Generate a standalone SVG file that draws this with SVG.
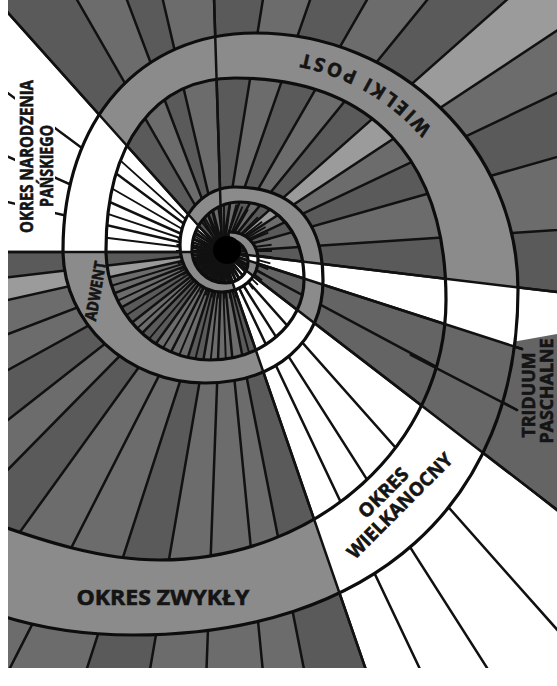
<svg xmlns="http://www.w3.org/2000/svg" width="557" height="686" viewBox="0 0 557 686">
<defs>
<style>
.ray{stroke:#111;stroke-width:2.5;fill:none;stroke-linecap:round}
.thin{stroke:#111;stroke-width:1.9;fill:none}
.edge{stroke:#0d0d0d;stroke-width:3.2;fill:none;stroke-linejoin:round;stroke-linecap:round}
.d{fill:#5a5a5a}.l{fill:#9b9b9b}.w{fill:#ffffff}.t{fill:#646464}
.lbl{font-family:"Open Sans","Liberation Sans",Arial,sans-serif;font-weight:700;fill:#141414;stroke:#141414;stroke-width:0.6}
</style>
<path id="bandPath" d="M-10,612 C30,626 80,635 133,635 C372,635 518,504 518,290 C518,148 400,33 255,33 C140,33 63,120 63,250 C63,323 127,383 205,383 C276,383 323,342 323,280 C323,220 292,187 235,187 C205,187 180,213 180,245 C180,271 199,292 222,292 C242,292 258,278 258,260 C258,243 245,232 230,232 L230,240 C240,240 248,250 248,262 C248,274 238,283 225,283 C207,283 192,268 192,250 C192,224 213,202 240,202 C278,202 304,233 304,280 C304,324 262,360 210,360 C153,360 106,311 106,250 C106,143 155,78 235,78 C370,78 446,158 446,300 C446,444 318,560 160,560 C100,560 40,540 -10,522 Z"/>
<clipPath id="bandclip"><use href="#bandPath"/></clipPath>
<path id="wpPath" d="M482,295 C482,153 385,55 245,55"/>
</defs>

<g id="background">
<rect x="0" y="0" width="557" height="686" fill="#6c6c6c"/>
<g id="wedges-dark" class="d">
<polygon points="222,252 -245,-270 -127,-355"/>
<polygon points="222,252 -25,-403 62,-430"/>
<polygon points="222,252 200,-448 334,-439"/>
<polygon points="222,252 453,-409 571,-355"/>
<polygon points="222,252 664,-291 746,-212"/>
<polygon points="222,252 854,-48 896,61"/>
<polygon points="222,252 921,206 917,335"/>
<polygon points="222,252 448,908 357,939"/>
<polygon points="222,252 103,942 6,918"/>
<polygon points="222,252 -188,820 -269,751"/>
<polygon points="222,252 -329,684 -391,590"/>
<polygon points="222,252 -473,334 -478,252"/>
</g>
<g id="wedges-light" class="l">
<polygon points="222,252 746,-212 806,-134"/>
<polygon points="222,252 -461,405 -473,334"/>
</g>
<g id="wedges-white" class="w">
<polygon points="222,252 -478,252 -460,93 -418,-33 -340,-165 -245,-270"/>
<polygon points="222,252 917,335 888,468"/>
<polygon points="222,252 777,679 687,776 598,842 522,884 448,908"/>
</g>
<polygon class="t" points="222,252 888,468 777,679"/>
<polygon class="t" points="506,343 557,334 557,512 506,471"/>
</g>

<g id="rays">
<path class="ray" d="M222,252 L-478,252 M222,252 L-460,93 M222,252 L-418,-33 M222,252 L-340,-165 M222,252 L-245,-270 M222,252 L-127,-355 M222,252 L-25,-403 M222,252 L62,-430 M222,252 L200,-448 M222,252 L334,-439 M222,252 L453,-409 M222,252 L571,-355 M222,252 L664,-291 M222,252 L746,-212 M222,252 L806,-134 M222,252 L854,-48 M222,252 L896,61 M222,252 L921,206 M222,252 L917,335 M222,252 L522,349 M222,252 L517,410 M222,252 L777,679 M222,252 L687,776 M222,252 L598,842 M222,252 L522,884 M222,252 L448,908 M222,252 L357,939 M222,252 L290,949 M222,252 L196,952 M222,252 L103,942 M222,252 L6,918 M222,252 L-96,876 M222,252 L-188,820 M222,252 L-269,751 M222,252 L-329,684 M222,252 L-391,590 M222,252 L-432,503 M222,252 L-461,405 M222,252 L-473,334"/>
<path class="thin" d="M222,252 L253.6,369.8 M222,252 L226.3,373.9 M222,252 L209.3,373.3 M222,252 L192.5,370.4 M222,252 L175.3,364.7 M222,252 L155,361 M222,252 L143.6,345.5 M222,252 L131.3,333.6 M222,252 L120.3,319.3 M222,252 L106,306.1 M222,252 L97.7,290 M222,252 L97.9,236.8 M222,252 L98.7,210.8 M222,252 L100.8,182 M222,252 L110.5,151.6"/>
<path class="thin" d="M224,251 L272,251 M224,251 L271.6,257.3 M224,251 L270.4,263.4 M224,251 L268.3,269.4 M224,251 L265.6,275 M224,251 L262.1,280.2 M224,251 L257.9,284.9 M224,251 L253.2,289.1 M224,251 L248,292.6 M224,251 L242.4,295.3 M224,251 L236.4,297.4 M224,251 L230.3,298.6 M224,251 L224,299 M224,251 L217.7,298.6 M224,251 L211.6,297.4 M224,251 L205.6,295.3 M224,251 L200,292.6 M224,251 L194.8,289.1 M224,251 L190.1,284.9 M224,251 L185.9,280.2 M224,251 L182.4,275 M224,251 L179.7,269.4 M224,251 L177.6,263.4 M224,251 L176.4,257.3 M224,251 L176,251 M224,251 L176.4,244.7 M224,251 L177.6,238.6 M224,251 L179.7,232.6 M224,251 L182.4,227 M224,251 L185.9,221.8 M224,251 L190.1,217.1 M224,251 L194.8,212.9 M224,251 L200,209.4 M224,251 L205.6,206.7 M224,251 L211.6,204.6 M224,251 L217.7,203.4 M224,251 L224,203 M224,251 L230.3,203.4 M224,251 L236.4,204.6 M224,251 L242.4,206.7 M224,251 L248,209.4 M224,251 L253.2,212.9 M224,251 L257.9,217.1 M224,251 L262.1,221.8 M224,251 L265.6,227 M224,251 L268.3,232.6 M224,251 L270.4,238.6 M224,251 L271.6,244.7"/>
</g>

<g id="spiral-band">
<use href="#bandPath" fill="#8b8b8b"/>
<g clip-path="url(#bandclip)">
<polygon class="w" points="222,252 -478,252 -460,93 -418,-33 -340,-165 -245,-270"/>
<polygon class="w" points="222,252 917,335 888,468"/>
<polygon class="w" points="222,252 777,679 687,776 598,842 522,884 448,908"/>
<polygon fill="#676767" points="365,298 888,468 777,679 341,344"/>
</g>
<path class="edge" d="M-10,612 C30,626 80,635 133,635 C372,635 518,504 518,290 C518,148 400,33 255,33 C140,33 63,120 63,250 C63,323 127,383 205,383 C276,383 323,342 323,280 C323,220 292,187 235,187 C205,187 180,213 180,245 C180,271 199,292 222,292 C242,292 258,278 258,260 C258,243 245,232 230,232"/>
<path class="edge" d="M-10,522 C40,540 100,560 160,560 C318,560 446,444 446,300 C446,158 370,78 235,78 C155,78 106,143 106,250 C106,311 153,360 210,360 C262,360 304,324 304,280 C304,233 278,202 240,202 C213,202 192,224 192,250 C192,268 207,283 225,283 C238,283 248,274 248,262 C248,250 240,240 230,240"/>
</g>

<g id="season-dividers">
<path class="ray" d="M222,252 L-478,252 M222,252 L-245,-270 M222,252 L200,-448 M222,252 L917,335 M222,252 L522,349 M410.8,354.9 L517,410 M222,252 L777,679 M222,252 L448,908"/>
</g>

<g id="center">
<circle cx="227" cy="250" r="14" fill="#000"/>
</g>

<g id="labels">
<rect x="15" y="74" width="40" height="166" fill="#fff"/>
<g id="label-narodzenie">
<text class="lbl" font-size="18" text-anchor="middle" textLength="153" lengthAdjust="spacingAndGlyphs" transform="translate(33,156.5) rotate(-90)">OKRES NARODZENIA</text>
<text class="lbl" font-size="18" text-anchor="middle" textLength="82" lengthAdjust="spacingAndGlyphs" transform="translate(53,166) rotate(-90)">PAŃSKIEGO</text>
</g>
<g id="label-adwent">
<text class="lbl" font-size="16" text-anchor="middle" textLength="60" lengthAdjust="spacingAndGlyphs" transform="translate(101,292) rotate(-80)">ADWENT</text>
</g>
<g id="label-wielki-post">
<text class="lbl" font-size="19" letter-spacing="3"><textPath href="#wpPath" startOffset="66%" text-anchor="middle"><tspan dy="7">WIELKI POST</tspan></textPath></text>
</g>
<g id="label-triduum">
<text class="lbl" font-size="18" text-anchor="middle" textLength="85" lengthAdjust="spacingAndGlyphs" transform="translate(535,395) rotate(-90)">TRIDUUM</text>
<text class="lbl" font-size="17" text-anchor="middle" textLength="105" lengthAdjust="spacingAndGlyphs" transform="translate(553,391) rotate(-90)">PASCHALNE</text>
</g>
<g id="label-wielkanocny">
<text class="lbl" font-size="19" text-anchor="middle" textLength="62" lengthAdjust="spacingAndGlyphs" transform="translate(388,497.5) rotate(-45)">OKRES</text>
<text class="lbl" font-size="19" text-anchor="middle" textLength="140" lengthAdjust="spacingAndGlyphs" transform="translate(404.5,510.5) rotate(-45)">WIELKANOCNY</text>
</g>
<g id="label-zwykly">
<text class="lbl" font-size="22" text-anchor="middle" textLength="173" lengthAdjust="spacingAndGlyphs" x="163" y="605">OKRES ZWYKŁY</text>
</g>
</g>

<rect x="0" y="0" width="8" height="686" fill="#fff"/>
<rect x="0" y="668" width="557" height="18" fill="#fff"/>
</svg>
